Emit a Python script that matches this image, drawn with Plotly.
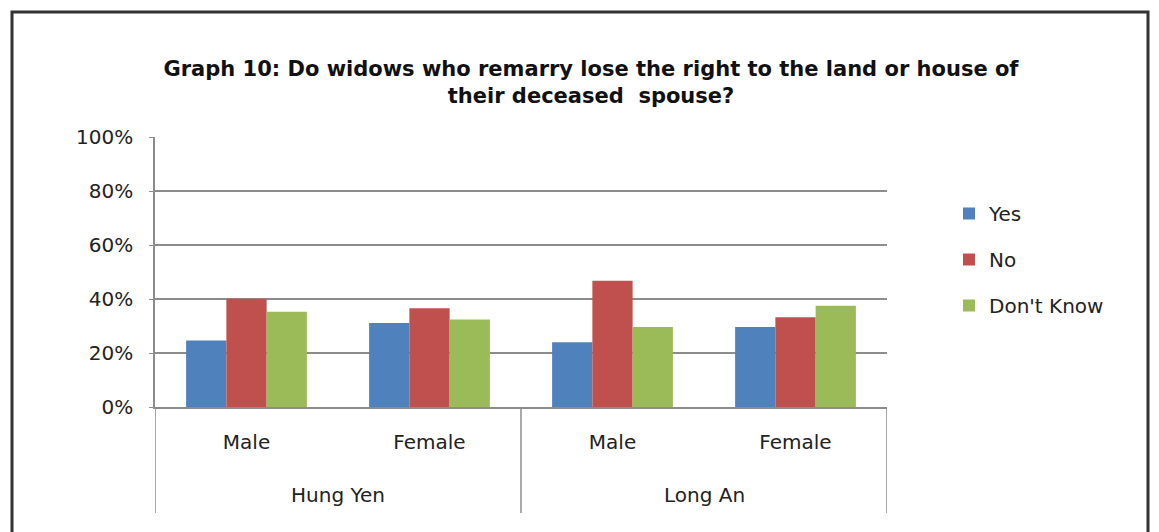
import plotly.graph_objects as go

provinces = ["Hung Yen", "Hung Yen", "Long An", "Long An"]
sexes = ["Male", "Female", "Male", "Female"]

yes_pct = [24.6, 31.1, 24.0, 29.6]
no_pct = [40.1, 36.6, 46.8, 33.2]
dont_know_pct = [35.3, 32.4, 29.6, 37.5]

series = [("Yes", yes_pct, "#4F81BD"),
          ("No", no_pct, "#C0504D"),
          ("Don't Know", dont_know_pct, "#9BBB59")]

W, H = 1159, 532
# page body has an 8px margin, so figure coords = screen coords - 8
L, R, T, B = 147, 879, 129, 399   # plot area in px
PH = B - T

xpos = list(range(len(sexes)))

fig = go.Figure()
for i, (name, vals, col) in enumerate(series):
    fig.add_trace(go.Bar(x=xpos, y=[v / 100 for v in vals], name=name,
                         marker_color=col, marker_line_width=0, legendgroup=str(i)))

font = "DejaVu Sans"
fig.update_layout(
    width=W, height=H,
    margin=dict(l=L, r=W - R, t=T, b=H - B),
    paper_bgcolor="white", plot_bgcolor="white",
    barmode="group", bargap=0.34, bargroupgap=0,
    font=dict(family=font, size=20, color="#222"),
    title=dict(text="<b>Graph 10: Do widows who remarry lose the right to the land or house of<br>their deceased  spouse?</b>",
               x=583 / W, xanchor="center", y=1 - 68 / H, yanchor="middle",
               font=dict(family=font, size=21, color="#111")),
    legend=dict(x=(941 - L) / (R - L), xanchor="left", y=(B - 186) / PH, yanchor="top",
                traceorder="grouped", tracegroupgap=17, font=dict(size=20),
                itemwidth=30),
    showlegend=True,
)
fig.update_yaxes(range=[0, 1], tickvals=[0, 0.2, 0.4, 0.6, 0.8, 1.0], tickformat=".0%",
                 showgrid=True, gridcolor="#8c8c8c", gridwidth=1.5,
                 showline=True, linecolor="#8c8c8c", linewidth=1.5,
                 ticks="outside", ticklen=4, tickcolor="#8c8c8c", zeroline=False,
                 ticklabelstandoff=12, tickfont=dict(size=20))
fig.update_xaxes(range=[-0.5, len(sexes) - 0.5], tickvals=xpos, ticktext=sexes,
                 showline=True, linecolor="#8c8c8c", linewidth=1.5,
                 ticks="", ticklabelstandoff=16, showgrid=False, zeroline=False,
                 tickfont=dict(size=20))

# province group labels and dividers under the axis
groups = []
for p in provinces:
    if p not in groups:
        groups.append(p)
bounds = [-0.5]
for g in groups:
    idx = [i for i, p in enumerate(provinces) if p == g]
    fig.add_annotation(x=sum(idx) / len(idx), xref="x", y=-88 / PH, yref="paper",
                       text=g, showarrow=False, yanchor="middle",
                       font=dict(family=font, size=20, color="#222"))
    bounds.append(max(idx) + 0.5)
for b in bounds:
    fig.add_shape(type="line", xref="x", yref="paper", x0=b, x1=b, y0=0, y1=-106 / PH,
                  line=dict(color="#8c8c8c", width=1.5))

# outer frame
fig.add_shape(type="rect", xref="paper", yref="paper",
              x0=(4 - L) / (R - L), x1=(1140 - L) / (R - L),
              y0=(B - 560) / PH, y1=(B - 4) / PH,
              line=dict(color="#333", width=3), fillcolor="rgba(0,0,0,0)", layer="below")

fig.write_html("out.html")
